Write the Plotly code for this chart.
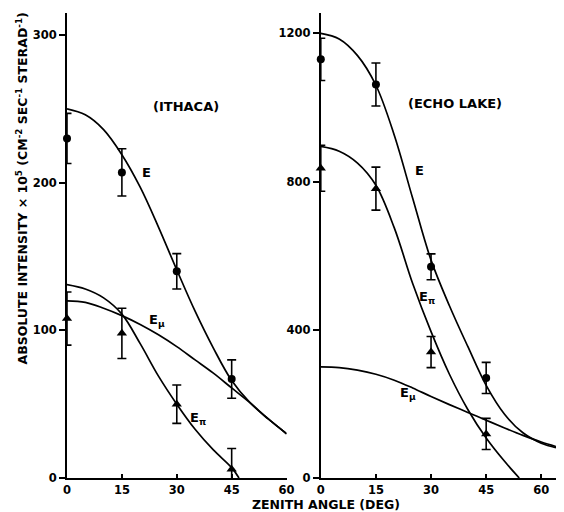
import plotly.graph_objects as go

# ---------------- data ----------------
angle_pts = [0, 15, 30, 45]

# Ithaca
ith_E_pts = [230, 207, 140, 67]
ith_E_err = [17, 16, 12, 13]
ith_Epi_pts = [108, 98, 50, 6]
ith_Epi_err = [18, 17, 13, 14]

ith_curve_x = [0, 5, 10, 15, 20, 25, 30, 35, 40, 45, 50, 55, 60]
ith_E_curve = [250, 246, 236, 219, 197, 170, 141, 113, 88, 66, 51, 40, 30]
ith_Emu_curve = [120, 119, 115, 110, 104, 97, 89, 80, 71, 61, 51, 40, 30]
ith_Epi_x = [0, 5, 10, 15, 20, 25, 30, 35, 40, 45, 47]
ith_Epi_curve = [131, 128, 122, 111, 91, 69, 50, 33, 19, 7, 0]

# Echo Lake
echo_E_pts = [1130, 1062, 570, 270]
echo_E_err = [57, 58, 35, 42]
echo_Epi_pts = [836, 781, 340, 119]
echo_Epi_err = [62, 58, 42, 42]

echo_curve_x = [0, 5, 10, 15, 20, 25, 30, 35, 40, 45, 50, 55, 60, 64]
echo_E_curve = [1200, 1185, 1140, 1060, 925, 755, 588, 465, 355, 250, 172, 122, 94, 82]
echo_Emu_curve = [300, 298, 291, 280, 264, 243, 220, 198, 177, 156, 135, 115, 97, 85]
echo_Epi_x = [0, 5, 10, 15, 20, 25, 30, 35, 40, 45, 50, 54]
echo_Epi_curve = [895, 882, 850, 790, 675, 525, 395, 280, 185, 108, 45, 0]

x_ticks = [0, 15, 30, 45, 60]
ith_y_ticks = [0, 100, 200, 300]
echo_y_ticks = [0, 400, 800, 1200]

# ---------------- figure ----------------
FONT = "DejaVu Sans"
BLK = "black"
fig = go.Figure()

def curve(x, y, xa, ya):
    fig.add_trace(go.Scatter(x=x, y=y, mode="lines", xaxis=xa, yaxis=ya,
                             line=dict(color=BLK, width=1.7, shape="spline", smoothing=1.0),
                             showlegend=False, hoverinfo="skip", cliponaxis=False))

def points(y, err, sym, size, xa, ya):
    fig.add_trace(go.Scatter(x=angle_pts, y=y, mode="markers", xaxis=xa, yaxis=ya,
                             marker=dict(symbol=sym, size=size, color=BLK),
                             error_y=dict(type="data", array=err, color=BLK, thickness=1.6, width=4.5),
                             showlegend=False, cliponaxis=False))

curve(ith_curve_x, ith_E_curve, "x", "y")
curve(ith_curve_x, ith_Emu_curve, "x", "y")
curve(ith_Epi_x, ith_Epi_curve, "x", "y")
points(ith_E_pts, ith_E_err, "circle", 8, "x", "y")
points(ith_Epi_pts, ith_Epi_err, "triangle-up", 9, "x", "y")

curve(echo_curve_x, echo_E_curve, "x2", "y2")
curve(echo_curve_x, echo_Emu_curve, "x2", "y2")
curve(echo_Epi_x, echo_Epi_curve, "x2", "y2")
points(echo_E_pts, echo_E_err, "circle", 8, "x2", "y2")
points(echo_Epi_pts, echo_Epi_err, "triangle-up", 9, "x2", "y2")

tickfont = dict(family=FONT, size=11.5, color=BLK, weight="bold")
xcommon = dict(tickvals=x_ticks, ticks="inside", ticklen=4, tickwidth=1.5, tickcolor=BLK,
               showline=True, linecolor=BLK, linewidth=2, showgrid=False, zeroline=False,
               tickfont=tickfont, ticklabelstandoff=0)
ycommon = dict(ticks="outside", ticklen=6, tickwidth=1.5, tickcolor=BLK,
               showline=True, linecolor=BLK, linewidth=2, showgrid=False, zeroline=False,
               tickfont=tickfont, ticklabelstandoff=0)

fig.update_layout(
    width=564, height=512,
    margin=dict(l=67, r=0, t=13, b=34),
    paper_bgcolor="white", plot_bgcolor="white",
    font=dict(family=FONT, color=BLK),
    xaxis=dict(domain=[0, 0.449], range=[0, 60], anchor="y", **xcommon),
    yaxis=dict(domain=[0, 1], range=[0, 315], tickvals=ith_y_ticks, anchor="x", **ycommon),
    xaxis2=dict(domain=[0.519, 1], range=[0, 64], anchor="y2", **xcommon),
    yaxis2=dict(domain=[0, 1], range=[0, 1255], tickvals=echo_y_ticks, anchor="x2", **ycommon),
)

def label(text, x, y, xa, ya, size=13):
    fig.add_annotation(text=text, x=x, y=y, xref=xa, yref=ya, showarrow=False,
                       font=dict(family=FONT, size=size, color=BLK, weight="bold"))

label("(ITHACA)", 32.5, 252, "x", "y", 13)
label("E", 21.8, 207, "x", "y")
label("E<sub>μ</sub>", 24.5, 107, "x", "y")
label("E<sub>π</sub>", 35.8, 40, "x", "y")

label("(ECHO LAKE)", 36.5, 1012, "x2", "y2", 13)
label("E", 26.8, 831, "x2", "y2")
label("E<sub>π</sub>", 28.9, 488, "x2", "y2")
label("E<sub>μ</sub>", 23.6, 229, "x2", "y2")

fig.add_annotation(text="ABSOLUTE INTENSITY × 10<sup>5</sup> (CM<sup>-2</sup> SEC<sup>-1</sup> STERAD<sup>-1</sup>)",
                   xref="paper", yref="paper", x=-0.113, y=0.622, textangle=-90, showarrow=False,
                   font=dict(family=FONT, size=12.5, color=BLK, weight="bold"))
fig.add_annotation(text="ZENITH ANGLE (DEG)", xref="paper", yref="paper",
                   x=(330 - 67) / 497, y=0, yshift=-(504 - 478), showarrow=False, yanchor="middle",
                   font=dict(family=FONT, size=12.5, color=BLK, weight="bold"))

fig.write_html("out.html")
